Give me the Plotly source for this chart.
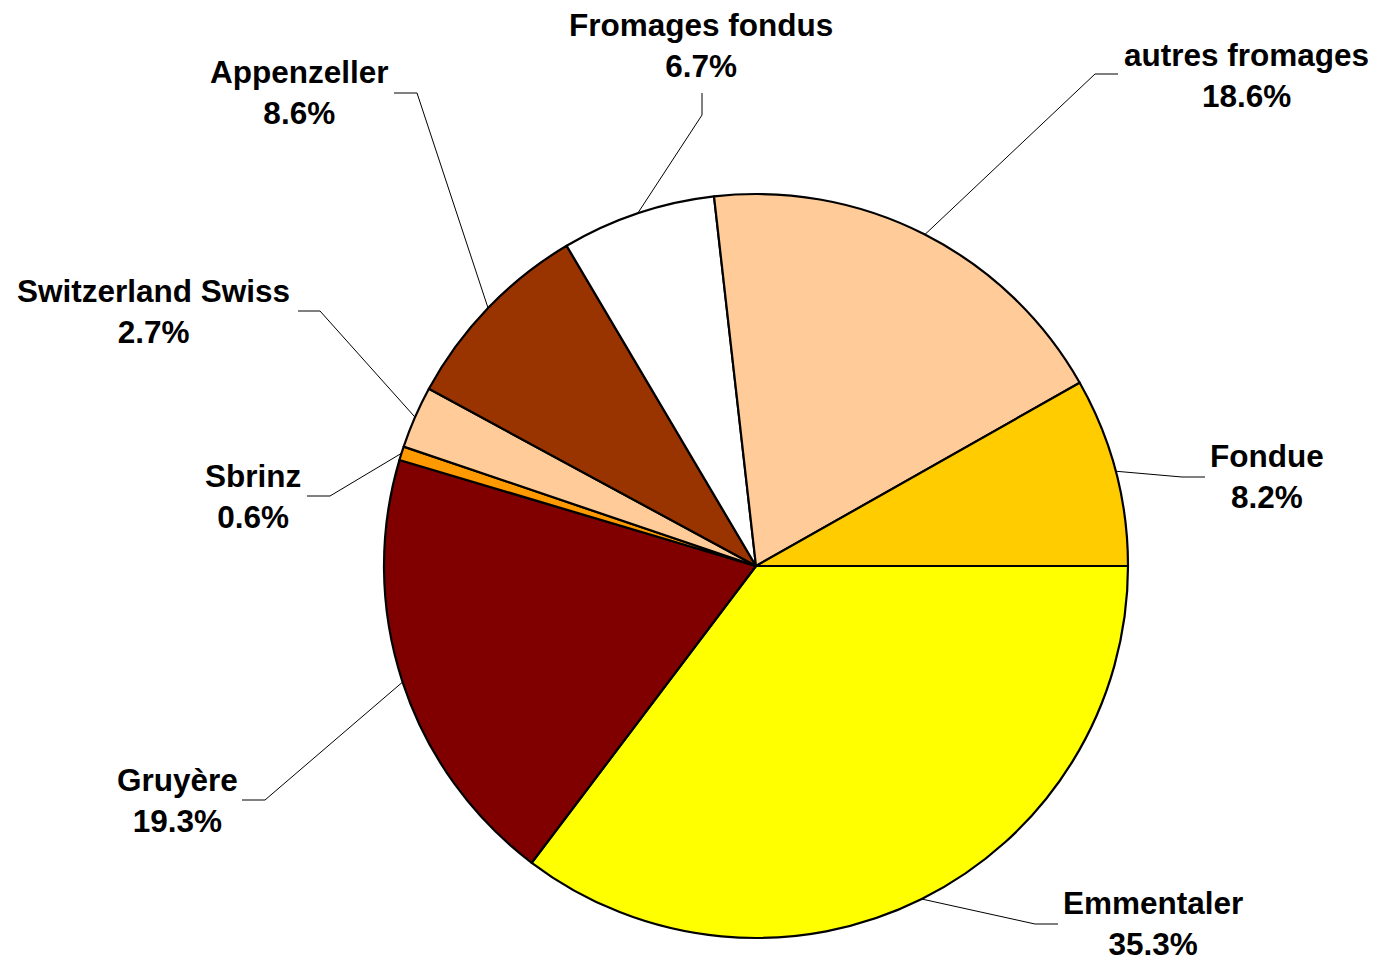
import math
import plotly.graph_objects as go

# ---- data ----
labels = ["Emmentaler", "Gruyère", "Sbrinz", "Switzerland Swiss",
          "Appenzeller", "Fromages fondus", "autres fromages", "Fondue"]
values = [35.3, 19.3, 0.6, 2.7, 8.6, 6.7, 18.6, 8.2]
colors = ["#FFFF00", "#800000", "#FF9900", "#FFCC99",
          "#993300", "#FFFFFF", "#FFCC99", "#FFCC00"]

# ---- layout (pixels in the page) ----
W, H = 1377, 960
OFF = 8  # default page body margin
CX, CY, R = 756, 566, 372
label_pos = {
    "Emmentaler": (1153, 923),
    "Gruyère": (177, 800),
    "Sbrinz": (253, 496),
    "Switzerland Swiss": (153, 311),
    "Appenzeller": (299, 93),
    "Fromages fondus": (701, 46),
    "autres fromages": (1246, 76),
    "Fondue": (1267, 476),
}
leader = {
    "Emmentaler": ((1035, 924), (1058, 924)),
    "Gruyère": ((265, 800), (242, 800)),
    "Sbrinz": ((330, 496), (307, 496)),
    "Switzerland Swiss": ((320, 311), (298, 311)),
    "Appenzeller": ((417, 93), (394, 93)),
    "Fromages fondus": ((702, 115), (702, 93)),
    "autres fromages": ((1095, 74), (1118, 74)),
    "Fondue": ((1182, 477), (1205, 477)),
}


def px(x):
    return (x - OFF) / W


def py(y):
    return 1 - (y - OFF) / H


fig = go.Figure(go.Pie(
    labels=labels, values=values, sort=False, direction="clockwise",
    rotation=90, textinfo="none", hoverinfo="label+percent",
    marker=dict(colors=colors, line=dict(color="black", width=2.2)),
    domain=dict(x=[px(CX - R), px(CX + R)], y=[py(CY + R), py(CY - R)]),
    showlegend=False,
))

total = sum(values)
cum = 0.0
shapes = []
annotations = []
for lab, v in zip(labels, values):
    mid = (cum + v / 2) / total
    cum += v
    ang = 2 * math.pi * mid  # clockwise from 3 o'clock, screen coordinates
    sx = CX + R * math.cos(ang)
    sy = CY + R * math.sin(ang)
    (ex, ey), (tx, ty) = leader[lab]
    shapes.append(dict(
        type="path", xref="paper", yref="paper",
        path=f"M {px(sx)},{py(sy)} L {px(ex)},{py(ey)} L {px(tx)},{py(ty)}",
        line=dict(color="black", width=1),
    ))
    pct = v / total * 100
    lx, ly = label_pos[lab]
    annotations.append(dict(
        x=px(lx), y=py(ly), xref="paper", yref="paper",
        xanchor="center", yanchor="middle", showarrow=False,
        text=f"{lab}<br>{pct:.1f}%", align="center",
        font=dict(family="Liberation Sans, Arial, sans-serif", size=31.5,
                  color="black", weight="bold"),
    ))

fig.update_layout(
    width=W, height=H, margin=dict(l=0, r=0, t=0, b=0),
    paper_bgcolor="white", plot_bgcolor="white",
    shapes=shapes, annotations=annotations,
)

fig.write_html("out.html")
